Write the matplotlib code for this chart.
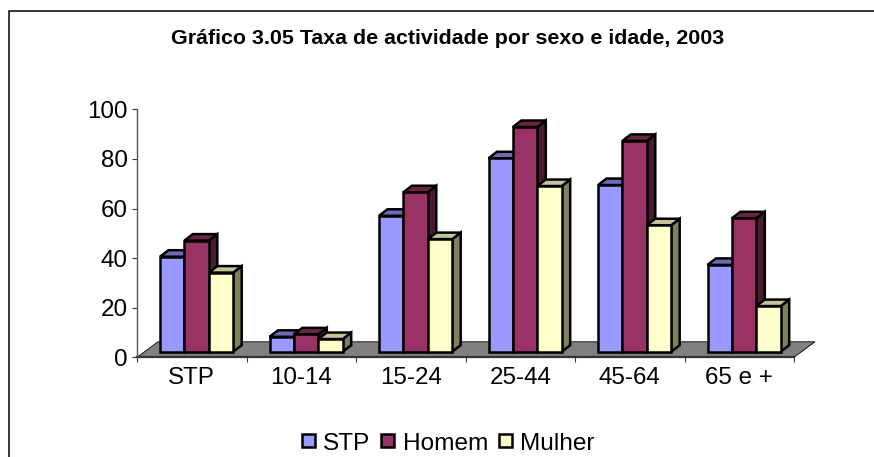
import matplotlib
matplotlib.use("Agg")
import numpy as np
import matplotlib.pyplot as plt
from matplotlib.patches import Polygon, Rectangle

plt.rcParams["font.family"] = ["Liberation Sans", "DejaVu Sans"]

categories = ["STP", "10-14", "15-24", "25-44", "45-64", "65 e +"]
stp = [38.3, 6.0, 54.8, 78.0, 67.2, 35.0]
homem = [44.8, 7.0, 64.3, 90.6, 85.0, 53.8]
mulher = [31.9, 5.1, 45.4, 66.8, 51.0, 18.4]
y_ticks = [0, 20, 40, 60, 80, 100]

W, H = 874, 457
fig = plt.figure(figsize=(W / 100, H / 100), dpi=100)

# chart area frame
ax_left, ax_right, ax_top, ax_bottom = 137, 794, 109.3, 357.3
ax = fig.add_axes([ax_left / W, 1 - ax_bottom / H, (ax_right - ax_left) / W, (ax_bottom - ax_top) / H])
ax.set_xlim(0, 6)
ax.set_ylim(0, 100)
ax.patch.set_alpha(0)

px = 6 / (ax_right - ax_left)
py = 100 / (ax_bottom - ax_top)

# floor
floor_dx = 21 * px
floor_dy = 15.5 * py
ax.add_patch(Polygon([(0, 0), (6, 0), (6 + floor_dx, floor_dy), (floor_dx, floor_dy)],
                     closed=True, facecolor="#808080", edgecolor="black", lw=0.6,
                     clip_on=False, zorder=1))
ax.plot([0, 6], [0, 0], color="#333333", lw=1.6, clip_on=False, zorder=2)

# 3d bars
series = [("STP", stp, "#9999FF", "#6C6CB4", "#4D4D80"),
          ("Homem", homem, "#993366", "#6B2447", "#4D1A33"),
          ("Mulher", mulher, "#FFFFCC", "#C4C49C", "#80805F")]
bar_w = 24.4 * px
depth_x = 8.5 * px
depth_y = 6.5 * py
base = 5.6 * py
start = 23 * px
edge = 1.8

# back to front so the side faces are hidden by the next bar
for j, (name, vals, col, top_col, side_col) in enumerate(series):
    for i, v in enumerate(vals):
        x0 = i + start + j * bar_w
        x1 = x0 + bar_w
        top = base + v
        ax.add_patch(Polygon([(x1, base), (x1 + depth_x, base + depth_y),
                              (x1 + depth_x, top + depth_y), (x1, top)],
                             closed=True, facecolor=side_col, edgecolor="black", lw=edge,
                             joinstyle="miter", zorder=3 + j))
        ax.add_patch(Polygon([(x0, top), (x1, top), (x1 + depth_x, top + depth_y), (x0 + depth_x, top + depth_y)],
                             closed=True, facecolor=top_col, edgecolor="black", lw=edge,
                             joinstyle="miter", zorder=3 + j))
    xs = np.arange(6) + start + j * bar_w
    ax.bar(xs, vals, width=bar_w, bottom=base, align="edge", color=col,
           edgecolor="black", linewidth=edge, zorder=3.5 + j)

for s in ["top", "right"]:
    ax.spines[s].set_visible(False)
ax.spines["bottom"].set_visible(False)
ax.spines["left"].set_color("#555555")
ax.spines["left"].set_linewidth(1)
ax.set_xticks(range(7))
ax.set_xticklabels([])
ax.set_xticks(np.arange(6) + 0.5, labels=categories, minor=True)
ax.tick_params(axis="x", which="major", direction="out", length=3.4, width=0.8, color="#333333")
ax.tick_params(axis="x", which="minor", length=0, labelsize=17.4, pad=7)
ax.set_yticks(y_ticks)
ax.tick_params(axis="y", direction="out", length=3.6, width=0.8, color="#333333", labelsize=17.4, pad=3)

fig.text(448 / W, 1 - 38.5 / H, "Gráfico 3.05 Taxa de actividade por sexo e idade, 2003",
         ha="center", va="center", fontsize=15.4, fontweight="bold")

# outer border: left and top only, the rest is cropped away
fig.add_artist(plt.Line2D([8.5 / W, 8.5 / W, 1],
                          [0, 1 - 10.5 / H, 1 - 10.5 / H], color="black", lw=1.1))

# legend
leg_y = 444
for (name, vals, col, top_col, side_col), bx, tx in zip(series, [302, 381, 499], [323, 403, 520]):
    fig.add_artist(Rectangle((bx / W, 1 - 447 / H), 13 / W, 13 / H, transform=fig.transFigure,
                             facecolor=col, edgecolor="black", lw=1.8))
    fig.text(tx / W, 1 - leg_y / H, name, ha="left", va="center", fontsize=17.6)

fig.savefig("out.png", dpi=100)
